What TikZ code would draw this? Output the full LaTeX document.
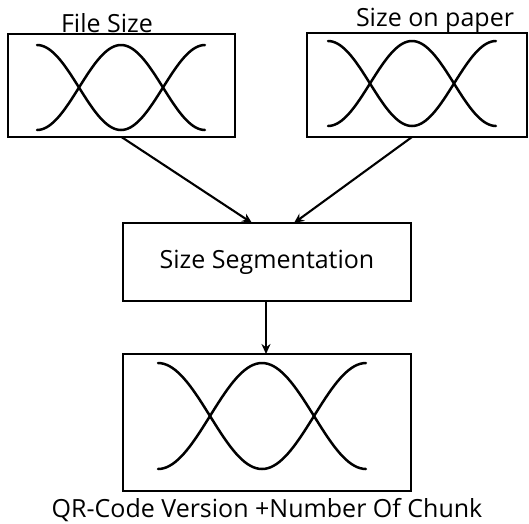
\documentclass[tikz,border=0pt]{standalone}
\usepackage{fontspec}
\setmainfont{Open Sans}
\usetikzlibrary{arrows.meta,calc}
\begin{document}
\begin{tikzpicture}[x=1pt,y=-1pt,
  box/.style={draw,line width=1.3pt,minimum width=#1,inner sep=0pt,outer sep=0pt},
  wave/.style={line width=2.5pt,line cap=round},
  conn/.style={line width=2.1pt,-{Stealth[length=10pt,width=9pt]}},
  lbl/.style={anchor=base,inner sep=0pt,font=\fontsize{25}{30}\selectfont}]
\useasboundingbox (0,0) rectangle (529,523);
\fill[white] (0,0) rectangle (529,523);
% boxes
\node[box=227pt,minimum height=103pt] (b1) at (121.5,85.5) {};
\node[box=220pt,minimum height=104pt] (b2) at (417,85) {};
\node[box=288pt,minimum height=78pt,font=\fontsize{25}{30}\selectfont] (mid) at (267,262) {Size Segmentation};
\node[box=288pt,minimum height=137pt] (bot) at (267,422.5) {};
% waves
\draw[wave] plot[domain=0:1,samples=73] ({37+168*\x},{87.5-42.5*cos(360*\x)});
\draw[wave] plot[domain=0:1,samples=73] ({37+168*\x},{87.5+42.5*cos(360*\x)});
\draw[wave] plot[domain=0:1,samples=73] ({328+168*\x},{83.5-42.5*cos(360*\x)});
\draw[wave] plot[domain=0:1,samples=73] ({328+168*\x},{83.5+42.5*cos(360*\x)});
\draw[wave] plot[domain=0:1,samples=73] ({158+208*\x},{416-53*cos(360*\x)});
\draw[wave] plot[domain=0:1,samples=73] ({158+208*\x},{416+53*cos(360*\x)});
% labels
\node[lbl] (l1) at (107,32) {File Size};
\node[lbl] (l2) at (435,26) {Size on paper};
\node[lbl] (l3) at (267,517) {QR-Code Version +Number Of Chunk};
% connectors
\draw[conn] (b1.south) -- ($(mid.north)+(-15,0)$);
\draw[conn] ($(b2.south)+(-5,0)$) -- ($(mid.north)+(27,0)$);
\draw[conn] ($(mid.south)+(-1,0)$) -- ($(bot.north)+(-1,0)$);
\end{tikzpicture}
\end{document}
